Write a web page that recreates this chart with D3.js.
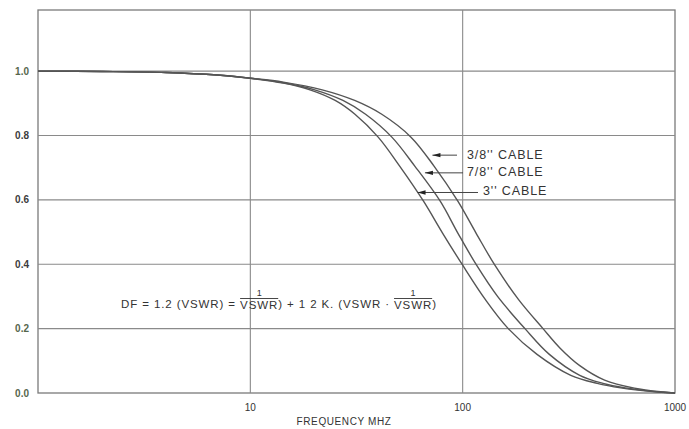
<!DOCTYPE html>
<html>
<head>
<meta charset="utf-8">
<script src="https://cdn.jsdelivr.net/npm/d3@7/dist/d3.min.js"></script>
<style>
  html, body { margin: 0; padding: 0; background: #ffffff; }
  svg { display: block; }
  text { font-family: "Liberation Sans", Arial, sans-serif; }
</style>
</head>
<body>
<svg id="chart" width="689" height="429"></svg>
<script>
// ---- data ----
const xTicks = [10, 100, 1000];
const xTickLabels = ["10", "100", "1000"];
const yTicks = [0.0, 0.2, 0.4, 0.6, 0.8, 1.0];
const yTickLabels = ["0.0", "0.2", "0.4", "0.6", "0.8", "1.0"];
const xTitle = "FREQUENCY MHZ";

const seriesNames = ["3/8'' CABLE", "7/8'' CABLE", "3'' CABLE"];

const freq38 = [1, 2, 4, 7, 10, 14.3, 21.8, 31.0, 41.6, 57.1, 73.3, 94.9, 115.6, 141.8, 183.4, 239, 287, 356, 466, 644, 879, 1000];
const df38   = [1.0, 0.999, 0.996, 0.988, 0.978, 0.966, 0.942, 0.909, 0.866, 0.795, 0.705, 0.596, 0.497, 0.397, 0.29, 0.20, 0.14, 0.085, 0.04, 0.015, 0.003, 0.0];

const freq78 = [1, 2, 4, 7, 10, 14.3, 20.1, 27.3, 34.9, 46.4, 59.5, 78.4, 94.9, 116.3, 146, 196.5, 256, 356, 458, 583, 850, 1000];
const df78   = [1.0, 0.999, 0.996, 0.988, 0.978, 0.964, 0.942, 0.909, 0.866, 0.795, 0.705, 0.596, 0.497, 0.397, 0.30, 0.20, 0.12, 0.055, 0.03, 0.016, 0.003, 0.0];

const freq3  = [1, 2, 4, 7, 10, 14.3, 19.1, 25.1, 31.1, 40, 50.5, 65.4, 80.4, 100, 128, 164, 224, 323, 430, 555, 829, 1000];
const df3    = [1.0, 0.999, 0.996, 0.988, 0.978, 0.963, 0.942, 0.909, 0.866, 0.795, 0.705, 0.596, 0.497, 0.397, 0.29, 0.20, 0.12, 0.055, 0.03, 0.016, 0.003, 0.0];

// arrow targets (where each label's arrow points), in data units
const arrowFreq = [70.5, 65, 60];
const arrowDF   = [0.739, 0.684, 0.623];

const formulaHead = "DF = 1.2 (VSWR) = ";
const formulaMid = ") + 1 2 K. (VSWR \u00B7 ";
const formulaTail = ")";
const fracNum = "1";
const fracDen = "VSWR";

// ---- layout ----
const svg = d3.select("#chart");
const x = d3.scaleLog().domain([1, 1000]).range([38, 675]);
const y = d3.scaleLinear().domain([0, 1.19]).range([393, 10]);

const gridColor = "#8a8a8a";

// frame
svg.append("rect")
  .attr("x", x(1)).attr("y", y(1.19))
  .attr("width", x(1000) - x(1)).attr("height", y(0) - y(1.19))
  .attr("fill", "none").attr("stroke", "#7a7a7a").attr("stroke-width", 1.3);

// horizontal grid
svg.append("g").selectAll("line")
  .data(yTicks.filter(v => v > 0))
  .join("line")
  .attr("x1", x(1)).attr("x2", x(1000))
  .attr("y1", d => y(d)).attr("y2", d => y(d))
  .attr("stroke", gridColor).attr("stroke-width", 1.1);

// vertical grid
svg.append("g").selectAll("line")
  .data(xTicks.filter(v => v < 1000))
  .join("line")
  .attr("x1", d => x(d)).attr("x2", d => x(d))
  .attr("y1", y(1.19)).attr("y2", y(0))
  .attr("stroke", gridColor).attr("stroke-width", 1.1);

// y tick labels
const yLabelColor = (i) => (i === 0 || i === 1 || i === 5) ? "#56664c" : "#3c3c3c";
svg.append("g").selectAll("text")
  .data(yTicks)
  .join("text")
  .attr("x", 29)
  .attr("y", d => y(d) + 3.5)
  .attr("text-anchor", "end")
  .attr("font-size", 10)
  .attr("font-weight", "bold")
  .attr("fill", (d, i) => yLabelColor(i))
  .text((d, i) => yTickLabels[i]);

// x tick labels
svg.append("g").selectAll("text")
  .data(xTicks)
  .join("text")
  .attr("x", d => x(d))
  .attr("y", 411)
  .attr("text-anchor", "middle")
  .attr("font-size", 10)
  .attr("fill", "#333")
  .text((d, i) => xTickLabels[i]);

// x title
svg.append("text")
  .attr("x", 344).attr("y", 425)
  .attr("text-anchor", "middle")
  .attr("font-size", 10)
  .attr("letter-spacing", 0.6)
  .attr("fill", "#333")
  .text(xTitle);

// curves
const line = d3.line()
  .x(d => x(d[0]))
  .y(d => y(d[1]))
  .curve(d3.curveCatmullRom.alpha(0.5));

const series = [
  d3.zip(freq38, df38),
  d3.zip(freq78, df78),
  d3.zip(freq3, df3)
];

svg.append("g").selectAll("path")
  .data(series)
  .join("path")
  .attr("d", line)
  .attr("fill", "none")
  .attr("stroke", "#555")
  .attr("stroke-width", 1.4);

// labels with arrows
const labelX = [467, 467, 483];
const labelY = [154, 171.5, 190.5];
const arrowTailX = [457, 463, 478];
seriesNames.forEach((name, i) => {
  const tipX = x(arrowFreq[i]) + 2;
  const tipY = y(arrowDF[i]);
  svg.append("line")
    .attr("x1", tipX).attr("y1", tipY)
    .attr("x2", arrowTailX[i]).attr("y2", tipY)
    .attr("stroke", "#444").attr("stroke-width", 1);
  svg.append("path")
    .attr("d", `M${tipX},${tipY} l8,-2.2 l0,4.4 z`)
    .attr("fill", "#222");
  svg.append("text")
    .attr("x", labelX[i]).attr("y", labelY[i] + 4.5)
    .attr("font-size", 12.5)
    .attr("letter-spacing", 0.9)
    .attr("fill", "#333")
    .text(name);
});

// formula
const fx0 = 121, fBase = 308;
const fSize = 11.5;
const g = svg.append("g").attr("fill", "#333").attr("font-size", fSize).attr("letter-spacing", 0.9);
let cx = fx0;
function plain(str) {
  const t = g.append("text").attr("x", cx).attr("y", fBase).attr("xml:space", "preserve").text(str);
  cx += t.node().getComputedTextLength();
}
function frac(num, den) {
  const t = g.append("text").attr("x", cx).attr("y", fBase + 1).text(den);
  const w = t.node().getComputedTextLength();
  g.append("line").attr("x1", cx).attr("x2", cx + w)
    .attr("y1", fBase - 9.5).attr("y2", fBase - 9.5)
    .attr("stroke", "#333").attr("stroke-width", 0.9);
  g.append("text").attr("x", cx + w / 2).attr("y", fBase - 12)
    .attr("text-anchor", "middle").attr("font-size", 9).attr("letter-spacing", 0).text(num);
  cx += w;
}
plain(formulaHead);
frac(fracNum, fracDen);
plain(formulaMid);
frac(fracNum, fracDen);
plain(formulaTail);
</script>
</body>
</html>
